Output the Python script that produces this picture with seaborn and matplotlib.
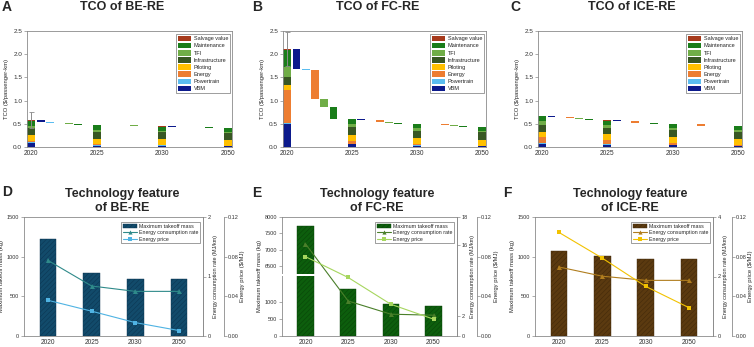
import numpy as np
import pandas as pd
import matplotlib
matplotlib.use('Agg')
import matplotlib.pyplot as plt
import seaborn as sns
from matplotlib.patches import Patch
from matplotlib.lines import Line2D

sns.set_theme(style='ticks')
plt.rcParams['font.family'] = ['Liberation Sans', 'DejaVu Sans']
plt.rcParams['hatch.linewidth'] = 0.35
plt.rcParams['axes.linewidth'] = 0.6

# ---------------- data ----------------
years = ['2020', '2025', '2030', '2050']
components = ['VBM', 'Powertrain', 'Energy', 'Piloting', 'Infrastructure',
              'TFI', 'Maintenance', 'Salvage value']
step_components = ['VBM', 'Powertrain', 'Energy', 'TFI', 'Maintenance', 'Salvage value']
legend_order = ['Salvage value', 'Maintenance', 'TFI', 'Infrastructure',
                'Piloting', 'Energy', 'Powertrain', 'VBM']
comp_colors = {'VBM': '#0c1a8c', 'Powertrain': '#5bbdf0', 'Energy': '#ed7d31',
               'Piloting': '#ffc000', 'Infrastructure': '#385723', 'TFI': '#70ad47',
               'Maintenance': '#1a7d1a', 'Salvage value': '#a63a1c'}

# TCO ($/passenger-km) components per year, ordered as `components`
be_2020 = [0.08, 0.03, 0.02, 0.12, 0.15, 0.05, 0.12, 0.01]
be_2025 = [0.03, 0.02, 0.01, 0.12, 0.15, 0.04, 0.10, 0.01]
be_2030 = [0.02, 0.015, 0.01, 0.12, 0.15, 0.035, 0.09, 0.005]
be_2050 = [0.015, 0.01, 0.005, 0.12, 0.15, 0.03, 0.085, 0.005]

fc_2020 = [0.49, 0.02, 0.71, 0.12, 0.17, 0.22, 0.37, 0.01]
fc_2025 = [0.06, 0.01, 0.07, 0.12, 0.17, 0.06, 0.11, 0.01]
fc_2030 = [0.03, 0.005, 0.03, 0.12, 0.17, 0.05, 0.09, 0.005]
fc_2050 = [0.015, 0.005, 0.01, 0.12, 0.17, 0.035, 0.08, 0.005]

ice_2020 = [0.07, 0.01, 0.13, 0.12, 0.15, 0.07, 0.12, 0.005]
ice_2025 = [0.05, 0.01, 0.09, 0.12, 0.15, 0.06, 0.09, 0.005]
ice_2030 = [0.035, 0.01, 0.045, 0.12, 0.15, 0.055, 0.085, 0.005]
ice_2050 = [0.02, 0.005, 0.02, 0.12, 0.15, 0.05, 0.08, 0.005]

tco_err_2020 = {'BE-RE': 0.18, 'FC-RE': 0.36, 'ICE-RE': 0.0}

# Technology features
mtom_be = [1220, 800, 720, 720]
cons_be = [1.27, 0.84, 0.75, 0.75]
price_be = [0.036, 0.025, 0.0135, 0.0055]

mtom_fc = [7740, 1380, 930, 880]
cons_fc = [16.1, 3.45, 2.15, 2.05]
price_fc = [0.080, 0.059, 0.032, 0.017]

mtom_ice = [1075, 1005, 965, 965]
cons_ice = [2.32, 2.01, 1.87, 1.87]
price_ice = [0.1045, 0.0785, 0.050, 0.0285]

# ---------------- figure ----------------
W, H = 754, 347
fig = plt.figure(figsize=(W / 100, H / 100), dpi=100)
SPINE = '#8a8a8a'


def rect(l, r, t, b):
    return [l / W, 1 - b / H, (r - l) / W, (b - t) / H]


def style_spines(ax):
    for s in ax.spines.values():
        s.set_color(SPINE)
        s.set_linewidth(0.6)
    ax.tick_params(colors='#333333', labelsize=4.6, length=2, width=0.5, pad=1.5)
    ax.tick_params(axis='both', color=SPINE)


def tco_panel(r, data, err, name):
    ax = fig.add_axes(r)
    xpos = [0, 7, 14, 21]
    for i, vals in enumerate(data):
        bottom = 0.0
        for comp, v in zip(components, vals):
            ax.bar(xpos[i], v, bottom=bottom, width=0.88, color=comp_colors[comp],
                   linewidth=0, zorder=2)
            bottom += v
    for i in range(3):
        running = sum(data[i])
        for k, comp in enumerate(step_components):
            j = components.index(comp)
            delta = data[i + 1][j] - data[i][j]
            ax.bar(xpos[i] + 1 + k, abs(delta), bottom=min(running, running + delta),
                   width=0.85, color=comp_colors[comp], linewidth=0, zorder=2)
            running += delta
    if err > 0:
        ax.errorbar(0, sum(data[0]), yerr=err, color='#8c8c8c', capsize=1.8,
                    elinewidth=0.7, capthick=0.6, zorder=3)
    ax.set_xlim(-0.45, 21.45)
    ax.set_ylim(0, 2.5)
    ax.set_xticks(xpos)
    ax.set_xticklabels(years)
    ax.set_yticks(np.arange(0, 2.51, 0.5))
    ax.set_yticklabels([f'{v:.1f}' for v in np.arange(0, 2.51, 0.5)])
    style_spines(ax)
    ax.tick_params(axis='x', length=0, labelsize=4.8, pad=2.5)
    ax.set_ylabel('TCO ($/passenger-km)', fontsize=4.2, labelpad=3)
    handles = [Patch(facecolor=comp_colors[c], edgecolor='none') for c in legend_order]
    leg = ax.legend(handles, legend_order, loc='upper right', bbox_to_anchor=(0.99, 0.975),
                    fontsize=4.0, frameon=True, fancybox=False, borderaxespad=0,
                    handlelength=2.4, handleheight=1.2, labelspacing=0.26,
                    handletextpad=0.5, borderpad=0.3)
    leg.get_frame().set_edgecolor('#555555')
    leg.get_frame().set_linewidth(0.5)
    return ax


tco_panel(rect(27, 232, 31, 147), [be_2020, be_2025, be_2030, be_2050], tco_err_2020['BE-RE'], 'BE-RE')
tco_panel(rect(283, 486, 31, 147), [fc_2020, fc_2025, fc_2030, fc_2050], tco_err_2020['FC-RE'], 'FC-RE')
tco_panel(rect(538, 742, 31, 147), [ice_2020, ice_2025, ice_2030, ice_2050], tco_err_2020['ICE-RE'], 'ICE-RE')


def piecewise(xp, fp):
    xp = np.asarray(xp, float)
    fp = np.asarray(fp, float)

    def f(v):
        v = np.asarray(v, float)
        out = np.interp(v, xp, fp)
        lo_s = (fp[1] - fp[0]) / (xp[1] - xp[0])
        hi_s = (fp[-1] - fp[-2]) / (xp[-1] - xp[-2])
        out = np.where(v < xp[0], fp[0] + (v - xp[0]) * lo_s, out)
        out = np.where(v > xp[-1], fp[-1] + (v - xp[-1]) * hi_s, out)
        return out
    return f


def tech_panel(r, offset, mtom, cons, price, bar_color, hatch_color, cons_color,
               price_color, cons_lim, cons_ticks, mtom_lim, mtom_ticks,
               mtom_break=None, cons_break=None):
    ax = fig.add_axes(r)
    ax2 = ax.twinx()
    ax3 = ax.twinx()
    if mtom_break is not None:
        f = piecewise(*mtom_break)
        fi = piecewise(mtom_break[1], mtom_break[0])
        ax.set_yscale('function', functions=(f, fi))
    if cons_break is not None:
        f = piecewise(*cons_break)
        fi = piecewise(cons_break[1], cons_break[0])
        ax2.set_yscale('function', functions=(f, fi))
    df = pd.DataFrame({'year': years, 'mtom': mtom})
    sns.barplot(data=df, x='year', y='mtom', ax=ax, color=bar_color, width=0.38,
                saturation=1, edgecolor=hatch_color, linewidth=0.3, hatch='///////')
    xs = np.arange(len(years))
    sns.lineplot(x=xs, y=cons, ax=ax2, color=cons_color, marker='^', markersize=3.6,
                 linewidth=0.8, markeredgewidth=0)
    sns.lineplot(x=xs, y=price, ax=ax3, color=price_color, marker='s', markersize=3.2,
                 linewidth=0.8, markeredgewidth=0)
    ax.set_xlim(-0.55, 3.55)
    ax.set_ylim(*mtom_lim)
    ax.set_yticks(mtom_ticks)
    ax.set_yticklabels([str(t) for t in mtom_ticks])
    ax2.set_ylim(*cons_lim)
    ax2.set_yticks(cons_ticks)
    ax2.set_yticklabels([str(t) for t in cons_ticks])
    ax3.set_ylim(0, 0.12)
    ax3.set_yticks([0, 0.04, 0.08, 0.12])
    ax3.set_yticklabels(['0.00', '0.04', '0.08', '0.12'])
    ax3.spines['right'].set_position(('axes', offset))
    for a in (ax, ax2, ax3):
        style_spines(a)
        a.set_xlabel('')
        a.tick_params(labelsize=4.0)
    ax3.tick_params(pad=1)
    for s in ('left', 'top', 'bottom'):
        ax2.spines[s].set_visible(False)
        ax3.spines[s].set_visible(False)
    ax.tick_params(axis='x', length=0, labelsize=4.8, pad=2.5)
    ax.set_ylabel('Maximum takeoff mass (kg)', fontsize=4.2, labelpad=2)
    ax2.set_ylabel('Energy consumption rate (MJ/km)', fontsize=4.0, labelpad=1.5)
    ax3.set_ylabel('Energy price ($/MJ)', fontsize=4.2, labelpad=1)
    if cons_break is not None:
        ax2.axhspan(cons_break[0][1], cons_break[0][2], xmin=-0.03, xmax=1.0,
                    color='white', zorder=1, clip_on=False, linewidth=0)
    handles = [Patch(facecolor=bar_color, edgecolor=hatch_color, hatch='///////', linewidth=0.3),
               Line2D([0], [0], color=cons_color, marker='^', markersize=3, lw=0.8, markeredgewidth=0),
               Line2D([0], [0], color=price_color, marker='s', markersize=2.8, lw=0.8, markeredgewidth=0)]
    leg = ax3.legend(handles, ['Maximum takeoff mass', 'Energy consumption rate', 'Energy price'],
                     loc='upper right', bbox_to_anchor=(0.985, 0.955), fontsize=3.8,
                     frameon=True, fancybox=False, borderaxespad=0, handlelength=2.6,
                     labelspacing=0.25, handletextpad=0.5, borderpad=0.3)
    leg.get_frame().set_edgecolor('#555555')
    leg.get_frame().set_linewidth(0.5)
    leg.set_zorder(10)
    return ax


tech_panel(rect(24, 203, 217, 336), 1.117, mtom_be, cons_be, price_be,
           '#124b6b', '#0b3450', '#2f8a8a', '#4fb3e3', (0, 2), [0, 1, 2],
           (0, 1500), [0, 500, 1000, 1500])
tech_panel(rect(282, 457, 217, 336), 1.114, mtom_fc, cons_fc, price_fc,
           '#0d5e0d', '#084208', '#4a7f2a', '#a6d65e', (0, 18), [0, 2, 16, 18],
           (0, 8000), [0, 500, 1000, 6500, 7000, 7500, 8000],
           mtom_break=([0, 1765, 6258, 8000], [0, 60, 62, 119.3]),
           cons_break=([0, 5.9, 13.95, 18], [0, 60, 62, 119.3]))
tech_panel(rect(535, 713, 217, 336), 1.105, mtom_ice, cons_ice, price_ice,
           '#5b3a10', '#40280a', '#b07d1e', '#f2c200', (0, 4), [0, 2, 4],
           (0, 1500), [0, 500, 1000, 1500])

# titles & panel letters
def ftext(x, y, s, **kw):
    fig.text(x / W, 1 - y / H, s, ha='center', va='center', **kw)

for x, t in [(122, 'TCO of BE-RE'), (378, 'TCO of FC-RE'), (632, 'TCO of ICE-RE')]:
    ftext(x, 7.5, t, fontsize=9, fontweight='bold')
for x, t in [(122, 'BE-RE'), (377, 'FC-RE'), (630, 'ICE-RE')]:
    ftext(x, 194, 'Technology feature', fontsize=9, fontweight='bold')
    ftext(x, 207.5, 'of ' + t, fontsize=9, fontweight='bold')
for x, y, l in [(7, 7, 'A'), (257, 7, 'B'), (515, 7, 'C'),
                (7, 192, 'D'), (257, 193, 'E'), (507, 193, 'F')]:
    ftext(x, y, l, fontsize=10, fontweight='bold')

fig.savefig('out.png', dpi=100)
